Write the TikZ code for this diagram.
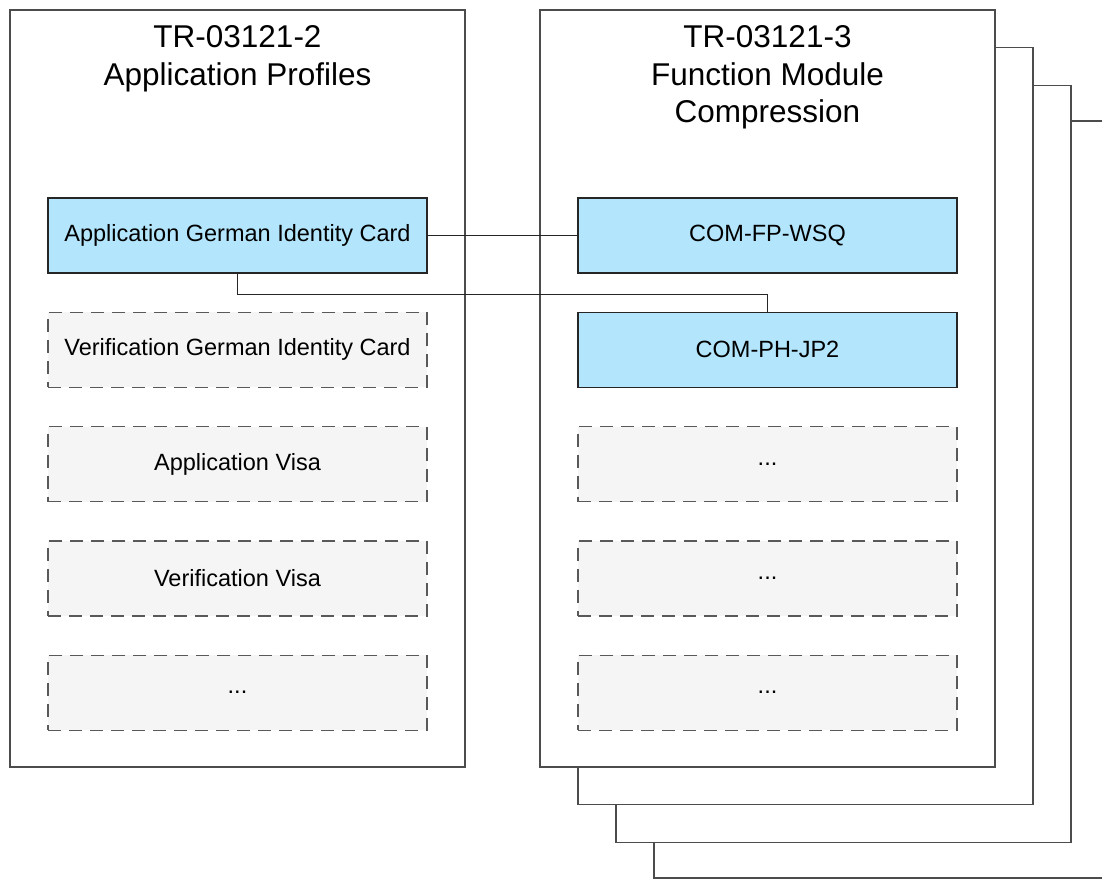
\documentclass[tikz,border=0pt]{standalone}
\usepackage{fontspec}
\setmainfont{Liberation Sans}
\usepackage{tikz}
\usetikzlibrary{positioning}

\definecolor{cardblue}{HTML}{B3E5FC}
\definecolor{sparegray}{HTML}{F5F5F5}

\tikzset{
  panel/.style={draw=black!70, line width=1.3pt, fill=white, minimum width=455pt, minimum height=757pt, inner sep=0pt},
  paneltitle/.style={font=\fontsize{31.5}{37.5}\selectfont, align=center, inner sep=0pt},
  module/.style={draw=black!85, line width=1.3pt, fill=cardblue, minimum width=379pt, minimum height=75pt, font=\fontsize{23.5}{28}\selectfont},
  spare/.style={module, draw=black!65, fill=sparegray, dash pattern=on 13pt off 8pt},
  link/.style={draw=black!85, line width=1.3pt}
}

\begin{document}
\begin{tikzpicture}[x=1pt, y=-1pt, node distance=38pt]
    \useasboundingbox (0,0) rectangle (1102,879);

    % Stacked copies of the function module
    \begin{scope}
        \clip (0,0) rectangle (1102,879);
        \node[panel] (copyc) at (881.5,499.5) {};
        \node[panel] (copyb) at (843.5,464) {};
        \node[panel] (copya) at (805.5,426) {};
    \end{scope}

    % Panels
    \node[panel] (profiles) at (237.5,388.5) {};
    \node[panel] (compression) at (767.5,388.5) {};
    \node[paneltitle, below=16pt of profiles.north] (profilestitle) {TR-03121-2\\Application Profiles};
    \node[paneltitle, below=16pt of compression.north] (compressiontitle) {TR-03121-3\\Function Module\\Compression};

    % Application profiles
    \node[module] (appgid) at (237.5,235.5) {Application German Identity Card};
    \node[spare, below=of appgid] (vergid) {Verification German Identity Card};
    \node[spare, below=of vergid] (appvisa) {Application Visa};
    \node[spare, below=of appvisa] (vervisa) {Verification Visa};
    \node[spare, below=of vervisa] (profmore) {...};

    % Function modules
    \node[module] (wsq) at (767.5,235.5) {COM-FP-WSQ};
    \node[module, below=of wsq] (jp2) {COM-PH-JP2};
    \node[spare, below=of jp2] (modmorea) {...};
    \node[spare, below=of modmorea] (modmoreb) {...};
    \node[spare, below=of modmoreb] (modmorec) {...};

    % Links
    \draw[link] (appgid.east) -- (wsq.west);
    \draw[link] (appgid.south) -- ++(0,21) -| (jp2.north);
\end{tikzpicture}
\end{document}
